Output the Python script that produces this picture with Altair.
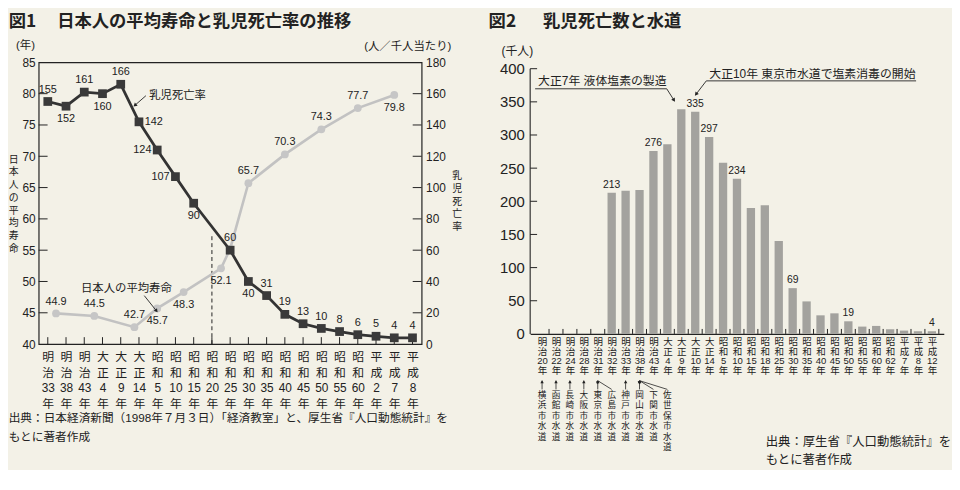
import json
import math
import altair as alt
import pandas as pd

# ---------------- Figure 1 data ----------------
FIG1_CATS = ["明治33年", "明治38年", "明治43年", "大正4年", "大正9年", "大正14年",
             "昭和5年", "昭和10年", "昭和15年", "昭和20年", "昭和25年", "昭和30年",
             "昭和35年", "昭和40年", "昭和45年", "昭和50年", "昭和55年", "昭和60年",
             "平成2年", "平成7年", "平成8年"]
MORT_VALUES = [155, 152, 161, 160, 166, 142, 124, 107, 90, None, 60, 40, 31, 19, 13,
               10, 8, 6, 5, 4, 4]
MORT_LABEL_SIDE = ["a", "b", "a", "b", "a", "r", "l", "l", "b", "", "a", "b", "a",
                   "a", "a", "a", "a", "a", "a", "a", "a"]
LIFE_POS = [0.45, 2.55, 4.75, 6.0, 7.45, 9.5, 10.0, 11.0, 13.0, 15.0, 17.0, 19.0]
LIFE_VALUES = [44.9, 44.5, 42.7, 45.7, 48.3, 52.1, 55.2, 65.7, 70.3, 74.3, 77.7, 79.8]
LIFE_LABELS = ["44.9", "44.5", "42.7", "45.7", "48.3", "52.1", "", "65.7", "70.3",
               "74.3", "77.7", "79.8"]
LIFE_LABEL_SIDE = ["a", "a", "a", "b", "b", "b", "", "a", "a", "a", "a", "b"]
LEFT_TICKS = list(range(40, 86, 5))
RIGHT_TICKS = list(range(0, 181, 20))
DASH_TOP = 57.6
LEFT_TITLE = "日本人の平均寿命"
RIGHT_TITLE = "乳児死亡率"

# ---------------- Figure 2 data ----------------
FIG2_CATS = ["明治20年", "明治22年", "明治24年", "明治28年", "明治31年", "明治32年",
             "明治33年", "明治38年", "明治43年", "大正4年", "大正9年", "大正10年",
             "大正14年", "昭和5年", "昭和10年", "昭和15年", "昭和18年", "昭和25年",
             "昭和30年", "昭和35年", "昭和40年", "昭和45年", "昭和50年", "昭和55年",
             "昭和60年", "昭和62年", "平成7年", "平成8年", "平成12年"]
DEATHS = [None, None, None, None, None, 213, 216, 217, 276, 286, 339, 335, 297, 258,
          234, 190, 194, 140, 69, 49, 28, 31, 19, 11, 12, 7, 5, 4, 4]
DEATH_LABELED = ["明治32年", "明治43年", "大正10年", "大正14年", "昭和10年",
                 "昭和30年", "昭和50年", "平成12年"]
Y2_TICKS = list(range(0, 401, 50))
WATER_CITIES = ["横浜", "函館", "長崎", "大阪", "東京", "広島", "神戸", "岡山", "下関", "佐世保"]
WATER_YEARS = ["明治20年", "明治22年", "明治24年", "明治28年", "明治31年", "明治31年",
               "明治33年", "明治38年", "明治38年", "明治38年"]
WATER_LABEL_AT = ["明治20年", "明治22年", "明治24年", "明治28年", "明治31年", "明治32年",
                  "明治33年", "明治38年", "明治43年", "大正4年"]

# ---------------- styles ----------------
BG = "#f3f1e7"
INK = "#222222"
DARK_LINE = "#333333"
DARK_PT = "#3a3a3a"
LIGHT_LINE = "#c2c2c2"
LIGHT_PT = "#c6c6c6"
BAR = "#a3a29e"
JP = "Noto Sans CJK JP"
MIX = "Liberation Sans, Noto Sans CJK JP"

W1, H1 = 387, 284.7
W2, H2 = 418, 274.4
Y2_TOP_GAP = 6.4
Y2_MAX = 400 * H2 / (H2 - Y2_TOP_GAP)
SPACING = 109.7
TITLE_Y = -40.6


def vlabel_expr(cats):
    arr = [[c[0], c[1], c[2:-1], c[-1]] for c in cats]
    return json.dumps(arr, ensure_ascii=False) + "[datum.value]"


def note(text, x, y, size=12, align="left", baseline="middle", weight="normal", font=JP):
    return alt.Chart(pd.DataFrame({"t": [text]})).mark_text(
        align=align, baseline=baseline, fontSize=size, fontWeight=weight,
        font=font, color=INK).encode(x=alt.value(x), y=alt.value(y), text="t:N")


def stacked(text, x, y0, step, size):
    return [note(ch, x, y0 + k * step, size=size, align="center") for k, ch in enumerate(text)]


def head_angle(dx, dy):
    return math.degrees(math.atan2(dx, -dy)) % 360


def px_line(x0, y0, x1, y1, head=False):
    df = pd.DataFrame({"k": [0]})
    out = [alt.Chart(df).mark_rule(color=INK, strokeWidth=0.9).encode(
        x=alt.value(x0), x2=alt.value(x1), y=alt.value(y0), y2=alt.value(y1))]
    if head:
        out.append(alt.Chart(df).mark_point(
            shape="triangle", filled=True, size=18, opacity=1, color=INK,
            angle=head_angle(x1 - x0, y1 - y0)).encode(x=alt.value(x1), y=alt.value(y1)))
    return out


# ================= Figure 1 =================
n1 = len(FIG1_CATS)
sx1 = alt.Scale(domain=[-0.5, n1 - 0.5], nice=False, zero=False)
ax1 = alt.Axis(values=list(range(n1)), labelExpr=vlabel_expr(FIG1_CATS), ticks=False,
               domain=False, grid=False, labelAngle=0, labelFont=MIX, labelFontSize=12,
               labelLineHeight=15.7, labelPadding=8, labelOverlap=False,
               labelColor=INK, title=None)
syl = alt.Scale(domain=[40, 85], nice=False, zero=False)
ayl = alt.Axis(orient="left", values=LEFT_TICKS, ticks=False, domain=False, grid=False,
               labelFont=MIX, labelFontSize=12, labelPadding=3.5, labelColor=INK, title=None)
syr = alt.Scale(domain=[0, 180], nice=False, zero=False)
ayr = alt.Axis(orient="right", values=RIGHT_TICKS, ticks=False, domain=False, grid=False,
               labelFont=MIX, labelFontSize=12, labelPadding=4, labelColor=INK, title=None)


def X1(f):
    return alt.X(f, type="quantitative", scale=sx1, axis=ax1)


def YL(f):
    return alt.Y(f, type="quantitative", scale=syl, axis=ayl)


def YR(f):
    return alt.Y(f, type="quantitative", scale=syr, axis=ayr)


PPX1 = W1 / n1
PPYL = H1 / 45.0
PPYR = H1 / 180.0

SIDE_OFFSETS = {"a": (0, -12), "b": (0, 13), "l": (-15, 0), "r": (15, 0)}


def value_labels(df, Y):
    out = []
    for side, (dx, dy) in SIDE_OFFSETS.items():
        out.append(alt.Chart(df).transform_filter(alt.datum.side == side).mark_text(
            dx=dx, dy=dy, fontSize=11, font=MIX, color=INK).encode(
            x=X1("x"), y=Y("v"), text="t:N"))
    return out


def data_arrow(x0, y0, x1, y1, Y, ppy):
    df = pd.DataFrame({"x0": [x0], "y0": [y0], "x1": [x1], "y1": [y1]})
    ang = head_angle((x1 - x0) * PPX1, -(y1 - y0) * ppy)
    line = alt.Chart(df).mark_rule(color=INK, strokeWidth=0.9).encode(
        x=X1("x0"), y=Y("y0"), x2=alt.X2("x1"), y2=alt.Y2("y1"))
    head = alt.Chart(df).mark_point(shape="triangle", filled=True, size=18, opacity=1,
                                    color=INK, angle=ang).encode(x=X1("x1"), y=Y("y1"))
    return [line, head]


life = pd.DataFrame({"x": LIFE_POS, "v": LIFE_VALUES, "t": LIFE_LABELS,
                     "side": LIFE_LABEL_SIDE})
mort = pd.DataFrame({"x": list(range(n1)), "v": MORT_VALUES, "side": MORT_LABEL_SIDE})
mort = mort.dropna(subset=["v"]).reset_index(drop=True)
mort["t"] = [str(int(v)) for v in mort["v"]]
gap_idx = MORT_VALUES.index(None)

left_ticks = alt.Chart(pd.DataFrame({"v": LEFT_TICKS[1:-1]})).mark_rule(
    color=INK, strokeWidth=1).encode(y=YL("v"), x=alt.value(0), x2=alt.value(9))
bottom_ticks = alt.Chart(pd.DataFrame({"x": list(range(n1))})).mark_rule(
    color=INK, strokeWidth=1).encode(x=X1("x"), y=alt.value(H1), y2=alt.value(H1 - 7))
dash = alt.Chart(pd.DataFrame({"x": [gap_idx], "a": [40], "b": [DASH_TOP]})).mark_rule(
    color=INK, strokeWidth=1, strokeDash=[4, 3]).encode(x=X1("x"), y=YL("a"), y2=alt.Y2("b"))
gray_line = alt.Chart(life).mark_line(color=LIGHT_LINE, strokeWidth=2.6).encode(
    x=X1("x"), y=YL("v"))
gray_pts = alt.Chart(life).mark_point(shape="circle", filled=True, size=62, opacity=1,
                                      color=LIGHT_PT).encode(x=X1("x"), y=YL("v"))

left_group = alt.layer(
    left_ticks, bottom_ticks, dash, gray_line, gray_pts,
    *value_labels(life, YL),
    alt.Chart(pd.DataFrame({"x": [4.31], "v": [48.85], "t": ["日本人の平均寿命"]})).mark_text(
        fontSize=11.5, font=JP, color=INK).encode(x=X1("x"), y=YL("v"), text="t:N"),
    *data_arrow(5.29, 47.74, 5.94, 45.37, YL, PPYL),
    note("図1", -30.3, TITLE_Y, size=17.5, weight="bold"),
    note("日本人の平均寿命と乳児死亡率の推移", 18.7, TITLE_Y, size=17.5, weight="bold"),
    note("(年)", -13.3, -16.3, size=11.5, align="center", font=MIX),
    note("(人／千人当たり)", 417, -15.3, size=11.5, align="right", font=MIX),
    *stacked(LEFT_TITLE, -25.2, 98.4, 12.86, 10),
    *stacked(RIGHT_TITLE, 423, 115.0, 12.9, 10),
    note("出典：日本経済新聞（1998年７月３日）「経済教室」と、厚生省『人口動態統計』を",
         -30.3, 359.7, size=11.8, font=MIX),
    note("もとに著者作成", -30.3, 378.7, size=11.8),
)

right_ticks = alt.Chart(pd.DataFrame({"v": RIGHT_TICKS[1:-1]})).mark_rule(
    color=INK, strokeWidth=1).encode(y=YR("v"), x=alt.value(W1 - 9), x2=alt.value(W1))
dark_line = alt.Chart(mort).mark_line(color=DARK_LINE, strokeWidth=2.8).encode(
    x=X1("x"), y=YR("v"))
squares = alt.Chart(mort).mark_point(shape="square", filled=True, size=78, opacity=1,
                                     color=DARK_PT).encode(x=X1("x"), y=YR("v"))

right_group = alt.layer(
    right_ticks, dark_line, squares,
    *value_labels(mort, YR),
    alt.Chart(pd.DataFrame({"x": [5.56], "v": [158.7], "t": ["乳児死亡率"]})).mark_text(
        align="left", fontSize=11.5, font=JP, color=INK).encode(
        x=X1("x"), y=YR("v"), text="t:N"),
    *data_arrow(5.38, 158.7, 4.80, 152.8, YR, PPYR),
)

fig1 = alt.layer(left_group, right_group).resolve_scale(y="independent").properties(
    width=W1, height=H1, view=alt.ViewBackground(stroke=INK, strokeWidth=1.2))

# ================= Figure 2 =================
n2 = len(FIG2_CATS)
PPX2 = W2 / n2
sx2 = alt.Scale(domain=[-0.5, n2 - 0.5], nice=False, zero=False)
ax2 = alt.Axis(values=list(range(n2)), labelExpr=vlabel_expr(FIG2_CATS), ticks=False,
               domain=True, domainColor=INK, domainWidth=1.1, grid=False, labelAngle=0,
               labelFont=MIX, labelFontSize=9.6, labelLineHeight=9.8, labelPadding=2.8,
               labelOverlap=False, labelColor=INK, title=None)
sy2 = alt.Scale(domain=[0, Y2_MAX], nice=False, zero=True)
ay2 = alt.Axis(values=Y2_TICKS, ticks=False, domain=False, grid=False, labelFont=MIX,
               labelFontSize=15, labelPadding=6, labelColor=INK, title=None)


def X2(f):
    return alt.X(f, type="quantitative", scale=sx2, axis=ax2)


def Y2(f):
    return alt.Y(f, type="quantitative", scale=sy2, axis=ay2)


deaths = pd.DataFrame({"x": list(range(n2)), "cat": FIG2_CATS, "v": DEATHS})
deaths = deaths.dropna(subset=["v"]).reset_index(drop=True)
deaths["t"] = [str(int(v)) if c in DEATH_LABELED else "" for c, v in zip(deaths["cat"], deaths["v"])]

bars = alt.Chart(deaths).mark_bar(size=8.4, color=BAR).encode(x=X2("x"), y=Y2("v"))
bar_labels = alt.Chart(deaths).transform_filter(alt.datum.t != "").mark_text(
    dy=-8, fontSize=10.5, font=MIX, color=INK).encode(x=X2("x"), y=Y2("v"), text="t:N")

y_domain = alt.Chart(pd.DataFrame({"a": [0], "b": [400]})).mark_rule(
    color=INK, strokeWidth=1.1).encode(x=alt.value(0), y=Y2("a"), y2=alt.Y2("b"))
y_ticks = alt.Chart(pd.DataFrame({"v": Y2_TICKS[1:]})).mark_rule(
    color=INK, strokeWidth=1).encode(y=Y2("v"), x=alt.value(0), x2=alt.value(7))
x_ticks = alt.Chart(pd.DataFrame({"b": [i - 0.5 for i in range(1, n2 + 1)]})).mark_rule(
    color=INK, strokeWidth=1).encode(x=X2("b"), y=alt.value(H2), y2=alt.value(H2 - 5))

# callouts below the axis: arrows from year column to the city column
ARR_TOP, ARR_BOT = 321.7, 330.5
CITY_ROW0, CITY_ROW_STEP = 335.8, 10.6
wdf = pd.DataFrame({
    "x0": [FIG2_CATS.index(y) for y in WATER_YEARS],
    "x1": [FIG2_CATS.index(c) for c in WATER_LABEL_AT],
})
wdf["ang"] = [head_angle((a - b) * PPX2, -(ARR_BOT - ARR_TOP)) for a, b in zip(wdf["x0"], wdf["x1"])]
rows = []
for city, col in zip(WATER_CITIES, WATER_LABEL_AT):
    for k, ch in enumerate(city + "市水道"):
        py = CITY_ROW0 + k * CITY_ROW_STEP
        rows.append({"x": FIG2_CATS.index(col), "vy": (H2 - py) * Y2_MAX / H2, "ch": ch})
cdf = pd.DataFrame(rows)

water_lines = alt.Chart(wdf).mark_rule(color=INK, strokeWidth=0.8).encode(
    x=X2("x0"), x2=alt.X2("x1"), y=alt.value(ARR_TOP), y2=alt.value(ARR_BOT))
water_heads = alt.Chart(wdf).mark_point(shape="triangle", filled=True, size=12,
                                        opacity=1, color=INK).encode(
    x=X2("x0"), y=alt.value(ARR_TOP + 1.5), angle=alt.Angle("ang:Q", scale=None))
water_text = alt.Chart(cdf).mark_text(baseline="middle", fontSize=8.7, font=JP,
                                      color=INK).encode(
    x=X2("x"), y=Y2("vy"), text="ch:N")

fig2 = alt.layer(
    bars, bar_labels, y_domain, y_ticks, x_ticks, water_lines, water_heads, water_text,
    note("大正7年 液体塩素の製造", 8, 18.4, size=12, font=MIX),
    *px_line(5, 26.7, 138, 26.7),
    *px_line(138, 26.7, 145, 37.7, head=True),
    note("大正10年 東京市水道で塩素消毒の開始", 181, 11.7, size=12, font=MIX),
    *px_line(178, 18.7, 390, 18.7),
    *px_line(178, 18.7, 168, 31.7, head=True),
    note("図2", -42, TITLE_Y, size=17.5, weight="bold"),
    note("乳児死亡数と水道", 13, TITLE_Y, size=17.5, weight="bold"),
    note("(千人)", -13, -11.3, size=12, align="center", font=MIX),
    note("出典：厚生省『人口動態統計』を", 238, 383.7, size=12.5),
    note("もとに著者作成", 238, 401.7, size=12.5),
).properties(width=W2, height=H2)

chart = alt.hconcat(fig1, fig2, spacing=SPACING, bounds="flush").properties(
    padding={"left": 0, "top": 1.5, "right": 0, "bottom": 0},
    background=BG).configure_view(stroke="transparent")

chart.save("out.html", embed_options={"renderer": "svg", "actions": False})
